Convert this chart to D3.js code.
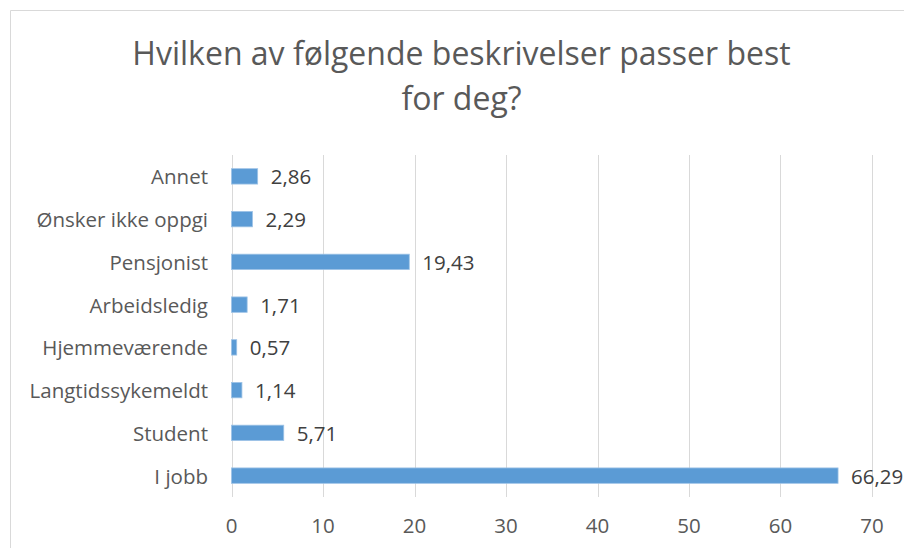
<!DOCTYPE html>
<html><head><meta charset="utf-8">
<script src="https://cdn.jsdelivr.net/npm/d3@7"></script>
<style>body{margin:0;background:#fff}svg{display:block}</style>
</head><body><svg id="c" width="904" height="548"></svg>
<script>
const categories = ["Annet","Ønsker ikke oppgi","Pensjonist","Arbeidsledig","Hjemmeværende","Langtidssykemeldt","Student","I jobb"];
const values = [2.86, 2.29, 19.43, 1.71, 0.57, 1.14, 5.71, 66.29];
const valueLabels = ["2,86","2,29","19,43","1,71","0,57","1,14","5,71","66,29"];
const xTicks = [0,10,20,30,40,50,60,70];
const titleLines = ["Hvilken av følgende beskrivelser passer best","for deg?"];

const svg = d3.select("#c");
const font = "'Open Sans', sans-serif";
// chart border
svg.append("path").attr("d","M10.5,548 V10.5 H904").attr("fill","none").attr("stroke","#d9d9d9").attr("stroke-width",1);

const x = d3.scaleLinear().domain([0,70]).range([231.5,872]);
const y = d3.scaleBand().domain(categories).range([155,497]).paddingInner(0.64).paddingOuter(0.32);

// gridlines
svg.append("g").selectAll("line").data(xTicks).join("line")
  .attr("x1",d=>Math.round(x(d))+0.5).attr("x2",d=>Math.round(x(d))+0.5)
  .attr("y1",155).attr("y2",497).attr("stroke","#d9d9d9").attr("stroke-width",1);

// x tick labels
svg.append("g").selectAll("text").data(xTicks).join("text")
  .attr("x",d=>x(d)).attr("y",533).attr("text-anchor","middle")
  .attr("font-family",font).attr("font-size",20.5).attr("fill","#595959").text(d=>d);

// bars
svg.append("g").selectAll("rect").data(values).join("rect")
  .attr("x",x(0)).attr("y",(d,i)=>y(categories[i]))
  .attr("width",d=>x(d)-x(0)).attr("height",y.bandwidth())
  .attr("fill","#5b9bd5").attr("stroke","#9dc3e6").attr("stroke-width",0.8);

// value labels
svg.append("g").selectAll("text").data(values).join("text")
  .attr("x",d=>x(d)+13).attr("y",(d,i)=>y(categories[i])+y.bandwidth()/2+8)
  .attr("font-family",font).attr("font-size",20.5).attr("fill","#404040").text((d,i)=>valueLabels[i]);

// category labels
svg.append("g").selectAll("text").data(categories).join("text")
  .attr("x",208).attr("y",d=>y(d)+y.bandwidth()/2+8).attr("text-anchor","end")
  .attr("font-family",font).attr("font-size",20.5).attr("fill","#595959").text(d=>d);

// title
svg.append("g").selectAll("text").data(titleLines).join("text")
  .attr("x",461.5).attr("y",(d,i)=>65+i*45).attr("text-anchor","middle")
  .attr("font-family",font).attr("font-size",32).attr("fill","#595959").text(d=>d);
</script></body></html>
